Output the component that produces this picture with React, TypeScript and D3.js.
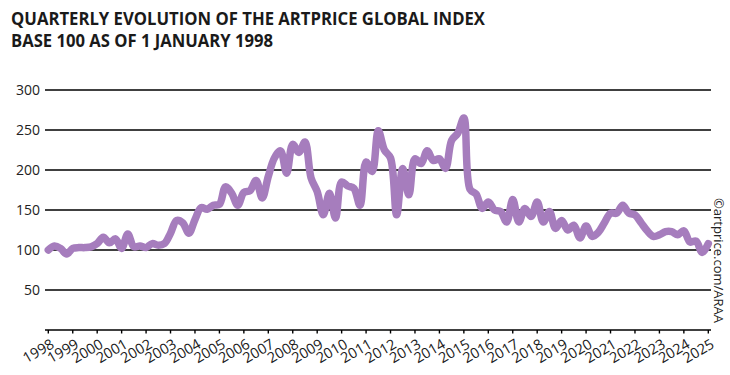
import React from "react";
import * as d3 from "d3";

const titleLines = [
  "QUARTERLY EVOLUTION OF THE ARTPRICE GLOBAL INDEX",
  "BASE 100 AS OF 1 JANUARY 1998",
];
const titleWidths = [474, 262];
const credit = "©artprice.com/ARAA";

const years = [
  1998, 1999, 2000, 2001, 2002, 2003, 2004, 2005, 2006, 2007, 2008, 2009, 2010,
  2011, 2012, 2013, 2014, 2015, 2016, 2017, 2018, 2019, 2020, 2021, 2022, 2023,
  2024, 2025,
];
const yTicks = [50, 100, 150, 200, 250, 300];

// Quarterly index values, 1998 Q1 -> 2025 Q1
const indexValues = [
  100, 105, 102, 95, // 1998
  102, 103, 103, 104, // 1999
  108, 116, 109, 114, // 2000
  102, 120, 104, 105, // 2001
  103, 108, 106, 108, // 2002
  121, 137, 134, 121, // 2003
  138, 153, 151, 156, // 2004
  157, 179, 171, 156, // 2005
  172, 174, 187, 165, // 2006
  192, 215, 224, 196, // 2007
  232, 222, 235, 190, // 2008
  173, 144, 171, 140, // 2009
  185, 180, 177, 156, // 2010
  210, 198, 249, 225, // 2011
  215, 144, 202, 169, // 2012
  214, 208, 224, 212, // 2013
  214, 202, 237, 246, // 2014
  265, 176, 170, 152, // 2015
  160, 150, 148, 135, // 2016
  163, 135, 152, 142, // 2017
  160, 135, 148, 127, // 2018
  137, 125, 131, 115, // 2019
  130, 117, 122, 134, // 2020
  146, 146, 156, 146, // 2021
  144, 134, 124, 117, // 2022
  119, 123, 123, 119, // 2023
  124, 110, 111, 97, // 2024
  108, // 2025
];

export default function App() {
  const W = 730;
  const H = 375;
  const x = d3.scaleLinear().domain([1998, 2025]).range([48.3, 708.3]);
  const y = d3.scaleLinear().domain([0, 300]).range([330, 90]);
  const gridX0 = 45;
  const gridX1 = 711;

  const pts: [number, number][] = indexValues.map((v, i) => [
    x(years[0] + i / 4),
    y(v),
  ]);
  const line = d3
    .line<[number, number]>()
    .x((d) => d[0])
    .y((d) => d[1])
    .curve(d3.curveCatmullRom.alpha(0.5));

  const font = "'Open Sans', 'Noto Sans', sans-serif";

  return (
    <svg
      width={W}
      height={H}
      style={{ position: "absolute", left: 0, top: 0, background: "#fff" }}
      fontFamily={font}
    >
      {titleLines.map((t, i) => (
        <text
          key={t}
          x={11}
          y={25 + i * 21.7}
          fontSize={17}
          fontWeight={700}
          fill="#1a1a1a"
          textLength={titleWidths[i]}
          lengthAdjust="spacingAndGlyphs"
        >
          {t}
        </text>
      ))}

      {yTicks.map((t) => (
        <g key={t}>
          <line
            x1={gridX0}
            x2={gridX1}
            y1={y(t)}
            y2={y(t)}
            stroke="#000"
            strokeWidth={1.4}
          />
          <text
            x={40}
            y={y(t)}
            dy="0.35em"
            textAnchor="end"
            fontSize={14}
            fill="#222"
          >
            {t}
          </text>
        </g>
      ))}

      <line
        x1={gridX0}
        x2={gridX1}
        y1={y(0)}
        y2={y(0)}
        stroke="#000"
        strokeWidth={1.4}
      />
      {years.map((yr) => (
        <g key={yr}>
          <line
            x1={x(yr)}
            x2={x(yr)}
            y1={y(0)}
            y2={y(0) + 3.5}
            stroke="#000"
            strokeWidth={1.4}
          />
          <text
            transform={`translate(${x(yr) + 7},${347}) rotate(-30)`}
            textAnchor="end"
            fontSize={14.5}
            fill="#1a1a1a"
          >
            {yr}
          </text>
        </g>
      ))}

      <path
        d={line(pts) || ""}
        fill="none"
        stroke="#a67dbd"
        strokeWidth={7.5}
        strokeLinejoin="round"
        strokeLinecap="round"
      />

      <text
        transform={`translate(714,198) rotate(90)`}
        fontSize={13}
        fill="#222"
      >
        {credit}
      </text>
    </svg>
  );
}
